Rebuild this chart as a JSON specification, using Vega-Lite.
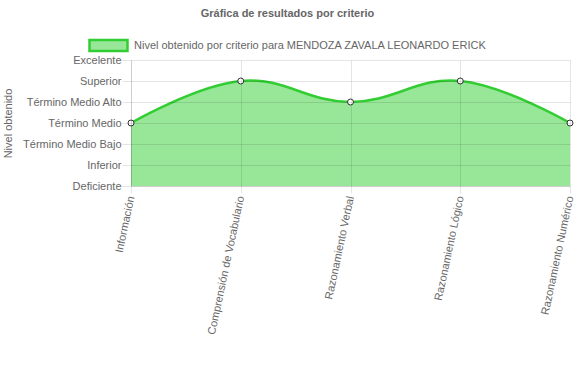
{
  "$schema": "https://vega.github.io/schema/vega-lite/v6.json",
  "autosize": {"type": "none"},
  "width": 439,
  "height": 126,
  "padding": {"left": 131, "top": 60, "right": 4, "bottom": 182},
  "background": "white",
  "config": {
    "font": "Liberation Sans",
    "view": {"stroke": null}
  },
  "title": {
    "text": "Gráfica de resultados por criterio",
    "fontSize": 11,
    "fontWeight": "bold",
    "color": "#666666",
    "anchor": "middle",
    "dx": -63,
    "offset": 6
  },
  "data": {
    "values": [
      {"criterio": "Información", "nivel": "Término Medio", "valor": 3, "serie": "Nivel obtenido por criterio para MENDOZA ZAVALA LEONARDO ERICK"},
      {"criterio": "Comprensión de Vocabulario", "nivel": "Superior", "valor": 5, "serie": "Nivel obtenido por criterio para MENDOZA ZAVALA LEONARDO ERICK"},
      {"criterio": "Razonamiento Verbal", "nivel": "Término Medio Alto", "valor": 4, "serie": "Nivel obtenido por criterio para MENDOZA ZAVALA LEONARDO ERICK"},
      {"criterio": "Razonamiento Lógico", "nivel": "Superior", "valor": 5, "serie": "Nivel obtenido por criterio para MENDOZA ZAVALA LEONARDO ERICK"},
      {"criterio": "Razonamiento Numérico", "nivel": "Término Medio", "valor": 3, "serie": "Nivel obtenido por criterio para MENDOZA ZAVALA LEONARDO ERICK"}
    ]
  },
  "encoding": {
    "x": {
      "field": "criterio",
      "type": "nominal",
      "sort": null,
      "scale": {"type": "point", "padding": 0},
      "axis": {
        "title": null,
        "zindex": 1,
        "labelAngle": -78,
        "labelAlign": "right",
        "labelBaseline": "middle",
        "labelFontSize": 11,
        "labelColor": "#666666",
        "labelPadding": 3,
        "tickSize": 7,
        "tickColor": "rgba(0,0,0,0.1)",
        "grid": true,
        "gridColor": "rgba(0,0,0,0.1)",
        "domain": true,
        "domainColor": "rgba(0,0,0,0.1)"
      }
    },
    "y": {
      "field": "valor",
      "type": "quantitative",
      "scale": {"domain": [0, 6], "nice": false, "zero": true},
      "axis": {
        "title": "Nivel obtenido",
        "zindex": 1,
        "titleFontSize": 11,
        "titleFontWeight": "normal",
        "titleColor": "#666666",
        "titlePadding": 9,
        "values": [0, 1, 2, 3, 4, 5, 6],
        "labelExpr": "['Deficiente','Inferior','Término Medio Bajo','Término Medio','Término Medio Alto','Superior','Excelente'][datum.value]",
        "labelFontSize": 11,
        "labelColor": "#666666",
        "labelPadding": 1,
        "tickSize": 9,
        "tickColor": "rgba(0,0,0,0.1)",
        "grid": true,
        "gridColor": "rgba(0,0,0,0.1)",
        "domain": true,
        "domainColor": "rgba(0,0,0,0.1)"
      }
    }
  },
  "layer": [
    {
      "mark": {
        "type": "area",
        "interpolate": "cardinal",
        "tension": -0.2,
        "opacity": 1,
        "fillOpacity": 1
      },
      "encoding": {
        "color": {
          "field": "serie",
          "type": "nominal",
          "scale": {"range": ["#98e698"]},
          "legend": {
            "title": null,
            "orient": "none",
            "legendX": -43,
            "legendY": -35,
            "symbolType": "M-1,-0.29L1,-0.29L1,0.29L-1,0.29Z",
            "symbolSize": 1444,
            "symbolStrokeColor": "#32cd32",
            "symbolStrokeWidth": 2.5,
            "symbolOpacity": 1,
            "labelFontSize": 11,
            "labelColor": "#666666",
            "labelOffset": 5,
            "labelLimit": 600
          }
        }
      }
    },
    {
      "mark": {
        "type": "line",
        "interpolate": "cardinal",
        "tension": -0.2,
        "color": "#32cd32",
        "strokeWidth": 2.5
      },
      "encoding": {}
    },
    {
      "mark": {
        "type": "point",
        "filled": true,
        "fill": "white",
        "stroke": "#333333",
        "strokeWidth": 1,
        "size": 36,
        "opacity": 1
      },
      "encoding": {}
    }
  ]
}
